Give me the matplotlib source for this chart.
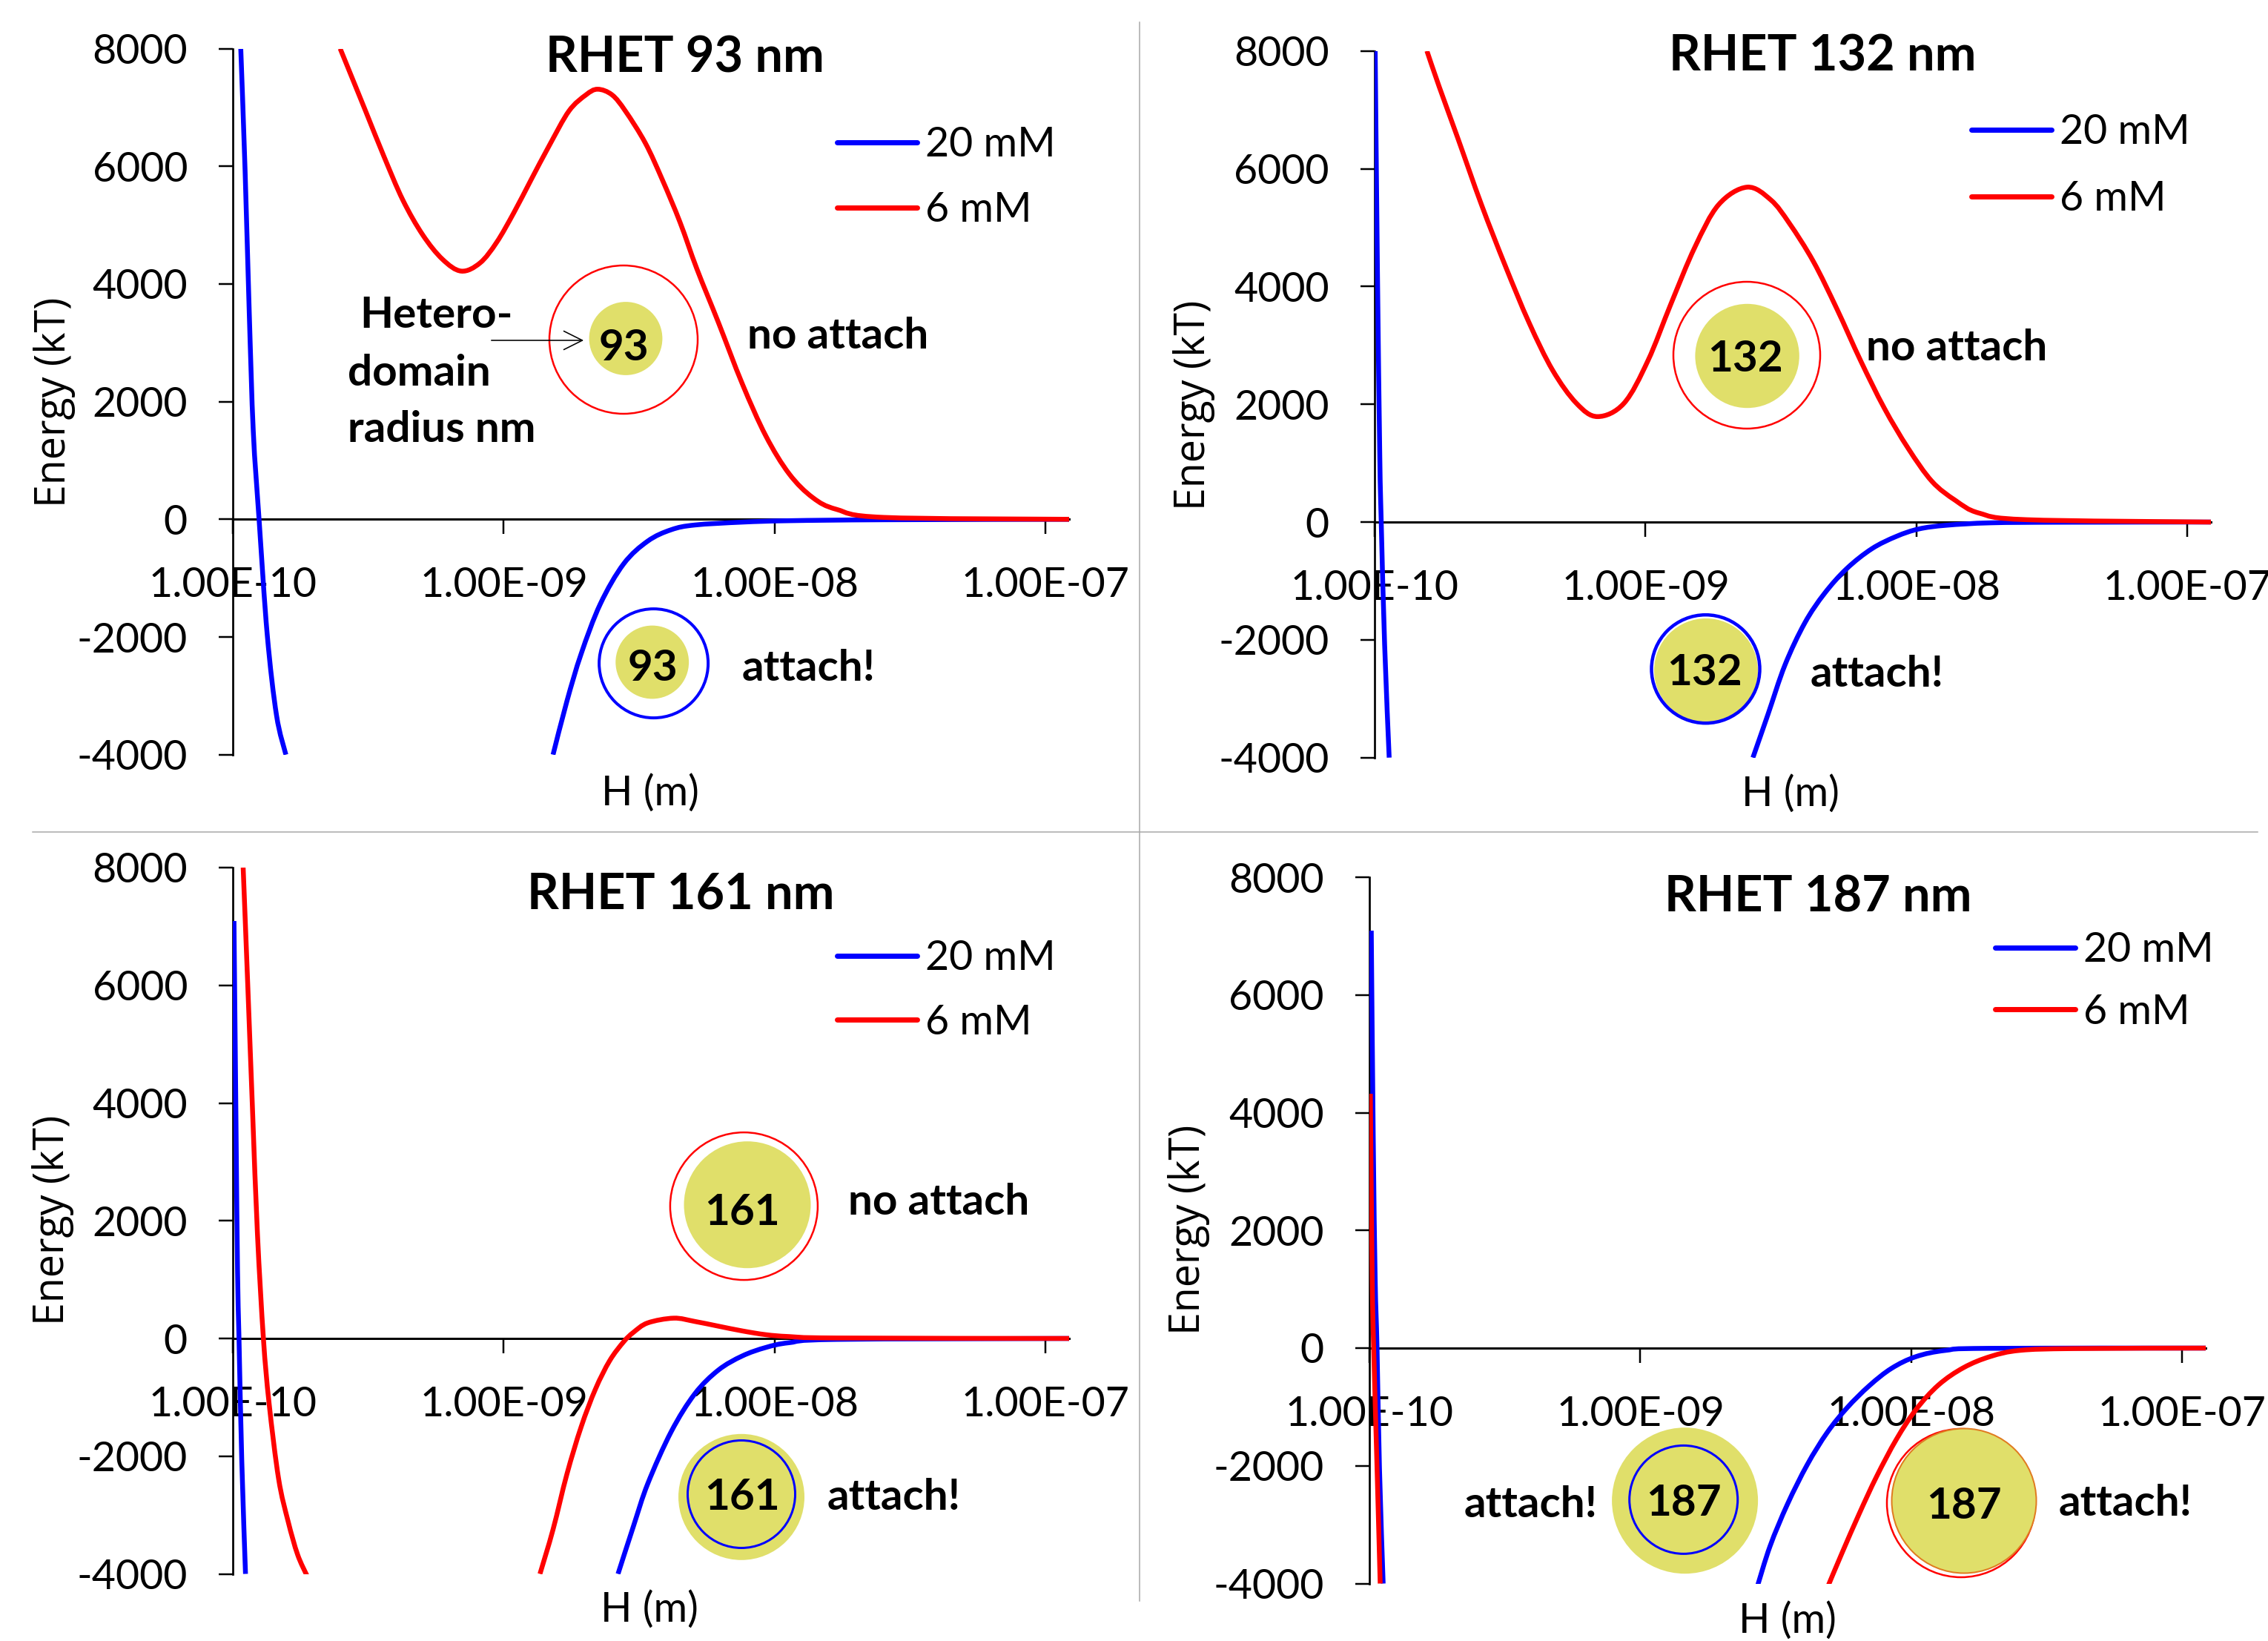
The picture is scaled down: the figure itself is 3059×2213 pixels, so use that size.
### Imports ###

import numpy as np
import matplotlib
matplotlib.use('Agg')
from matplotlib import pyplot as plt
from matplotlib import font_manager
from matplotlib.path import Path
from matplotlib.patches import PathPatch, Circle, FancyArrowPatch
from matplotlib.lines import Line2D
from matplotlib.ticker import NullLocator

### Data ###

x_ticks = [1e-10, 1e-9, 1e-8, 1e-7]
x_tick_labels = ['1.00E-10', '1.00E-09', '1.00E-08', '1.00E-07']
y_ticks = [-4000, -2000, 0, 2000, 4000, 6000, 8000]
series_names = ['20 mM', '6 mM']

# RHET 93 nm
h_93_20mM_a = [1.07e-10, 1.11e-10, 1.15e-10, 1.19e-10, 1.25e-10, 1.34e-10, 1.45e-10, 1.57e-10]
e_93_20mM_a = [8000, 5925, 3510, 1497, 0, -1964, -3333, -4000]
h_93_20mM_b = [1.52e-9, 1.71e-9, 1.93e-9, 2.27e-9, 2.77e-9, 3.40e-9, 4.15e-9, 5.07e-9,
               7.59e-9, 1.13e-8, 2.53e-8, 1.22e-7]
e_93_20mM_b = [-4000, -3091, -2286, -1441, -757, -370, -177, -97, -48, -24, -8, 0]
h_93_6mM = [2.49e-10, 3.09e-10, 3.60e-10, 4.24e-10, 5.02e-10, 5.94e-10, 6.97e-10, 8.17e-10,
            9.42e-10, 1.09e-9, 1.26e-9, 1.47e-9, 1.74e-9, 2.01e-9, 2.22e-9, 2.51e-9,
            2.81e-9, 3.33e-9, 3.85e-9, 4.47e-9, 5.16e-9, 6.19e-9, 7.59e-9, 9.27e-9,
            1.13e-8, 1.38e-8, 1.69e-8, 2.53e-8, 1.22e-7]
e_93_6mM = [8000, 6939, 6183, 5427, 4835, 4419, 4218, 4356, 4709, 5213, 5767, 6347,
            6939, 7213, 7309, 7213, 6939, 6394, 5767, 5049, 4255, 3349, 2302, 1417,
            773, 370, 169, 32, 0]

# RHET 132 nm
h_132_20mM_a = [1.005e-10, 1.024e-10, 1.045e-10, 1.058e-10, 1.089e-10, 1.132e-10]
e_132_20mM_a = [8000, 4345, 1133, 0, -2080, -4000]
h_132_20mM_b = [2.49e-9, 2.83e-9, 3.27e-9, 3.87e-9, 4.58e-9, 5.53e-9, 6.84e-9, 8.43e-9,
                1.02e-8, 1.29e-8, 1.88e-8, 3.50e-8, 1.22e-7]
e_132_20mM_b = [-4000, -3265, -2426, -1712, -1209, -789, -453, -243, -117, -54, -13, -3, 0]
h_132_6mM = [1.56e-10, 1.73e-10, 2.03e-10, 2.48e-10, 3.04e-10, 3.72e-10, 4.54e-10, 5.56e-10,
             6.65e-10, 8.32e-10, 1.02e-9, 1.24e-9, 1.52e-9, 1.86e-9, 2.37e-9, 2.90e-9,
             3.40e-9, 4.16e-9, 5.08e-9, 6.22e-9, 7.60e-9, 9.31e-9, 1.14e-8, 1.39e-8,
             1.70e-8, 2.55e-8, 1.22e-7]
e_132_6mM = [8000, 7397, 6514, 5389, 4345, 3381, 2578, 2016, 1791, 2016, 2739, 3703,
             4667, 5389, 5687, 5470, 5068, 4426, 3622, 2739, 1936, 1253, 691, 369,
             153, 40, 0]

# RHET 161 nm
h_161_20mM_a = [1.01e-10, 1.028e-10, 1.041e-10, 1.054e-10, 1.079e-10, 1.114e-10]
e_161_20mM_a = [7092, 3558, 1149, 0, -2064, -4000]
h_161_20mM_b = [2.64e-9, 3.01e-9, 3.40e-9, 4.15e-9, 5.07e-9, 6.19e-9, 7.59e-9, 9.27e-9,
                1.13e-8, 1.69e-8, 1.22e-7]
e_161_20mM_b = [-4000, -3189, -2466, -1582, -940, -538, -297, -153, -72, -16, 0]
h_161_6mM_a = [1.092e-10, 1.137e-10, 1.183e-10, 1.233e-10, 1.297e-10, 1.361e-10,
               1.476e-10, 1.600e-10, 1.734e-10, 1.879e-10]
e_161_6mM_a = [8000, 5936, 3855, 1775, 0, -1100, -2386, -3108, -3671, -4032]
h_161_6mM_b = [1.36e-9, 1.52e-9, 1.71e-9, 1.93e-9, 2.18e-9, 2.46e-9, 2.77e-9, 3.01e-9,
               3.40e-9, 4.24e-9, 5.07e-9, 6.19e-9, 7.59e-9, 9.27e-9, 1.13e-8, 1.69e-8, 1.22e-7]
e_161_6mM_b = [-4000, -3245, -2305, -1502, -859, -377, -56, 104, 265, 345, 289, 209,
               128, 64, 32, 8, 0]

# RHET 187 nm
h_187_20mM_a = [1.016e-10, 1.033e-10, 1.050e-10, 1.067e-10, 1.089e-10, 1.124e-10]
e_187_20mM_a = [7092, 3598, 1189, 0, -2024, -4000]
h_187_20mM_b = [2.69e-9, 3.01e-9, 3.49e-9, 4.13e-9, 4.89e-9, 5.79e-9, 7.00e-9, 8.45e-9,
                1.04e-8, 1.34e-8, 1.92e-8, 1.22e-7]
e_187_20mM_b = [-4079, -3365, -2652, -1980, -1435, -1015, -638, -344, -145, -38, -4, 0]
h_187_6mM_a = [1.008e-10, 1.024e-10, 1.037e-10, 1.067e-10, 1.096e-10]
e_187_6mM_a = [4321, 1189, 0, -2024, -4000]
h_187_6mM_b = [4.89e-9, 5.55e-9, 6.43e-9, 7.45e-9, 8.81e-9, 1.04e-8, 1.26e-8, 1.56e-8,
               1.96e-8, 2.52e-8, 3.98e-8, 1.22e-7]
e_187_6mM_b = [-4079, -3479, -2808, -2178, -1549, -1045, -626, -331, -142, -38, -8, 0]

### Style / layout ###

W_PX, H_PX = 3059, 2213
BLUE, RED, YELLOW = '#0000FF', '#FF0000', '#E0DF6A'

installed = {f.name for f in font_manager.fontManager.ttflist}
main_font = 'Lato' if 'Lato' in installed else 'DejaVu Sans'
ylab_font = 'Open Sans' if 'Open Sans' in installed else 'DejaVu Sans'

plt.rcParams['font.family'] = [main_font, 'DejaVu Sans']
plt.rcParams['axes.unicode_minus'] = False

PX = 72 / 100  # points per pixel at dpi 100


def fig_x(px):
    return px / W_PX


def fig_y(py):
    return 1 - py / H_PX


def smooth_path(h, e):
    # Excel-like smoothed line: Catmull-Rom through the points (log x)
    x = np.log10(h)
    y = np.asarray(e, dtype=float)
    n = len(x)
    verts = [(x[0], y[0])]
    codes = [Path.MOVETO]
    for i in range(n - 1):
        xa, ya = (x[i - 1], y[i - 1]) if i > 0 else (x[i], y[i])
        xd, yd = (x[i + 2], y[i + 2]) if i + 2 < n else (x[i + 1], y[i + 1])
        verts.append((x[i] + (x[i + 1] - xa) / 6, y[i] + (y[i + 1] - ya) / 6))
        verts.append((x[i + 1] - (xd - x[i]) / 6, y[i + 1] - (yd - y[i]) / 6))
        verts.append((x[i + 1], y[i + 1]))
        codes += [Path.CURVE4] * 3
    verts = np.array(verts)
    verts[:, 0] = 10 ** verts[:, 0]
    return Path(verts, codes)


panels = [
    dict(title='RHET 93 nm', rect=(314, 65.5, 1442, 1017.7), title_xy=(924, 72),
         curves=[(BLUE, h_93_20mM_a, e_93_20mM_a), (BLUE, h_93_20mM_b, e_93_20mM_b),
                 (RED, h_93_6mM, e_93_6mM)],
         legend_xy=(1129, 170), legend_gap=0.67, ylab_xy=(74, 542), xlab_xy=(877, 1070)),
    dict(title='RHET 132 nm', rect=(1854, 68.7, 2982, 1021.7), title_xy=(2458, 70),
         curves=[(BLUE, h_132_20mM_a, e_132_20mM_a), (BLUE, h_132_20mM_b, e_132_20mM_b),
                 (RED, h_132_6mM, e_132_6mM)],
         legend_xy=(2659, 153), legend_gap=0.71, ylab_xy=(1611, 546), xlab_xy=(2415, 1071)),
    dict(title='RHET 161 nm', rect=(314, 1170, 1442, 2122.5), title_xy=(918, 1201),
         curves=[(BLUE, h_161_20mM_a, e_161_20mM_a), (BLUE, h_161_20mM_b, e_161_20mM_b),
                 (RED, h_161_6mM_a, e_161_6mM_a), (RED, h_161_6mM_b, e_161_6mM_b)],
         legend_xy=(1129, 1267), legend_gap=0.64, ylab_xy=(72, 1645), xlab_xy=(876, 2171)),
    dict(title='RHET 187 nm', rect=(1847, 1183, 2975, 2135.5), title_xy=(2452, 1204),
         curves=[(BLUE, h_187_20mM_a, e_187_20mM_a), (RED, h_187_6mM_a, e_187_6mM_a),
                 (BLUE, h_187_20mM_b, e_187_20mM_b), (RED, h_187_6mM_b, e_187_6mM_b)],
         legend_xy=(2691, 1256), legend_gap=0.59, ylab_xy=(1604, 1658), xlab_xy=(2411, 2186)),
]

# (x, y, radius, face, edge, edge width px) in figure pixels
circles = [
    (841, 458, 100, 'none', RED, 2.5), (844, 456.5, 49.4, YELLOW, 'none', 0),
    (879.7, 893, 49.4, YELLOW, 'none', 0), (881.6, 894.6, 73.5, 'none', BLUE, 4),
    (2356, 479, 99, 'none', RED, 2.5), (2356.6, 480, 70.2, YELLOW, 'none', 0),
    (2301, 904, 70, YELLOW, 'none', 0), (2300.5, 902.2, 73, 'none', BLUE, 4.5),
    (1003.4, 1626.6, 99.5, 'none', RED, 2.5), (1008, 1624.7, 85.5, YELLOW, 'none', 0),
    (1000, 2018.8, 85, YELLOW, 'none', 0), (1000, 2015, 72.5, 'none', BLUE, 3),
    (2272.6, 2023.7, 98.5, YELLOW, 'none', 0), (2270.7, 2022.4, 73, 'none', BLUE, 3),
    (2645, 2027, 100, 'none', RED, 2.5), (2649, 2024, 97.5, YELLOW, '#E07B20', 2),
]

# (text, x, y, ha)
notes = [
    ('93', 841, 464, 'center'), ('93', 880, 897, 'center'),
    ('no attach', 1008, 448, 'left'), ('attach!', 1001, 896, 'left'),
    ('Hetero-', 485, 421, 'left'), ('domain', 469, 498, 'left'), ('radius nm', 469, 574, 'left'),
    ('132', 2354, 479, 'center'), ('132', 2299, 902, 'center'),
    ('no attach', 2517, 464, 'left'), ('attach!', 2442, 904, 'left'),
    ('161', 1001, 1630, 'center'), ('161', 1001, 2015, 'center'),
    ('no attach', 1144, 1617, 'left'), ('attach!', 1116, 2014, 'left'),
    ('187', 2271, 2022, 'center'), ('187', 2649, 2027, 'center'),
    ('attach!', 1975, 2024, 'left'), ('attach!', 2777, 2023, 'left'),
]

### Figure ###

fig = plt.figure(figsize=(W_PX / 100, H_PX / 100), dpi=100)

for panel in panels:
    left, top, right, bottom = panel['rect']
    ax = fig.add_axes([fig_x(left), fig_y(bottom), (right - left) / W_PX, (bottom - top) / H_PX])

    for color, h, e in panel['curves']:
        ax.add_patch(PathPatch(smooth_path(h, e), facecolor='none', edgecolor=color,
                               lw=6.5 * PX, zorder=3, capstyle='butt'))

    ax.set_xscale('log')
    ax.set_xlim(1e-10, 1.22e-7)
    ax.set_ylim(-4000, 8000)
    ax.set_xticks(x_ticks)
    ax.set_xticklabels(x_tick_labels)
    ax.xaxis.set_minor_locator(NullLocator())
    ax.set_yticks(y_ticks)
    ax.set_yticklabels([str(v) for v in y_ticks])

    for side in ['top', 'right']:
        ax.spines[side].set_visible(False)
    ax.spines['bottom'].set_position(('data', 0))
    ax.spines['bottom'].set_linewidth(3 * PX)
    ax.spines['left'].set_linewidth(2.7 * PX)
    ax.tick_params(axis='x', direction='out', length=20 * PX, width=2.5 * PX,
                   pad=44 * PX, labelsize=40)
    ax.tick_params(axis='y', direction='out', length=19 * PX, width=2.5 * PX,
                   pad=42 * PX, labelsize=40)
    ax.patch.set_visible(False)

    handles = [Line2D([], [], color=BLUE, lw=7 * PX, solid_capstyle='round'),
               Line2D([], [], color=RED, lw=7 * PX, solid_capstyle='round')]
    lx, ly = panel['legend_xy']
    ax.legend(handles, series_names, loc='upper left', bbox_to_anchor=(fig_x(lx), fig_y(ly)),
              bbox_transform=fig.transFigure, frameon=False, borderpad=0, borderaxespad=0,
              handlelength=1.95, handletextpad=0.2, labelspacing=panel['legend_gap'], fontsize=40)

    tx, ty = panel['title_xy']
    fig.text(fig_x(tx), fig_y(ty), panel['title'], ha='center', va='center_baseline',
             fontsize=48, fontweight='bold')
    yx, yy = panel['ylab_xy']
    fig.text(fig_x(yx), fig_y(yy), 'Energy (kT)', ha='center', va='center', rotation=90,
             fontsize=40, family=[ylab_font, 'DejaVu Sans'])
    xx, xy = panel['xlab_xy']
    fig.text(fig_x(xx), fig_y(xy), 'H (m)', ha='center', va='center', fontsize=40)

# Circles and notes on top of everything
for cx, cy, r, face, edge, lw in circles:
    fig.add_artist(Circle((cx / 100, (H_PX - cy) / 100), r / 100, transform=fig.dpi_scale_trans,
                          facecolor=face, edgecolor=edge, lw=lw * PX, zorder=5))

for text, x, y, ha in notes:
    fig.text(fig_x(x), fig_y(y), text, ha=ha, va='center_baseline', fontsize=42,
             fontweight='bold', zorder=6)

fig.add_artist(FancyArrowPatch((fig_x(660), fig_y(459)), (fig_x(790), fig_y(459)),
                               transform=fig.transFigure, arrowstyle='->,head_length=1.0,head_width=0.5',
                               mutation_scale=18, lw=1.6 * PX, color='black', zorder=6))

# Grey frame lines between the panels
fig.add_artist(Line2D([fig_x(1537), fig_x(1537)], [fig_y(30), fig_y(2159)],
                      color='#A6A6A6', lw=1.5 * PX))
fig.add_artist(Line2D([fig_x(44), fig_x(3045)], [fig_y(1122), fig_y(1122)],
                      color='#A6A6A6', lw=1.5 * PX))

fig.savefig('out.png', dpi=100)
